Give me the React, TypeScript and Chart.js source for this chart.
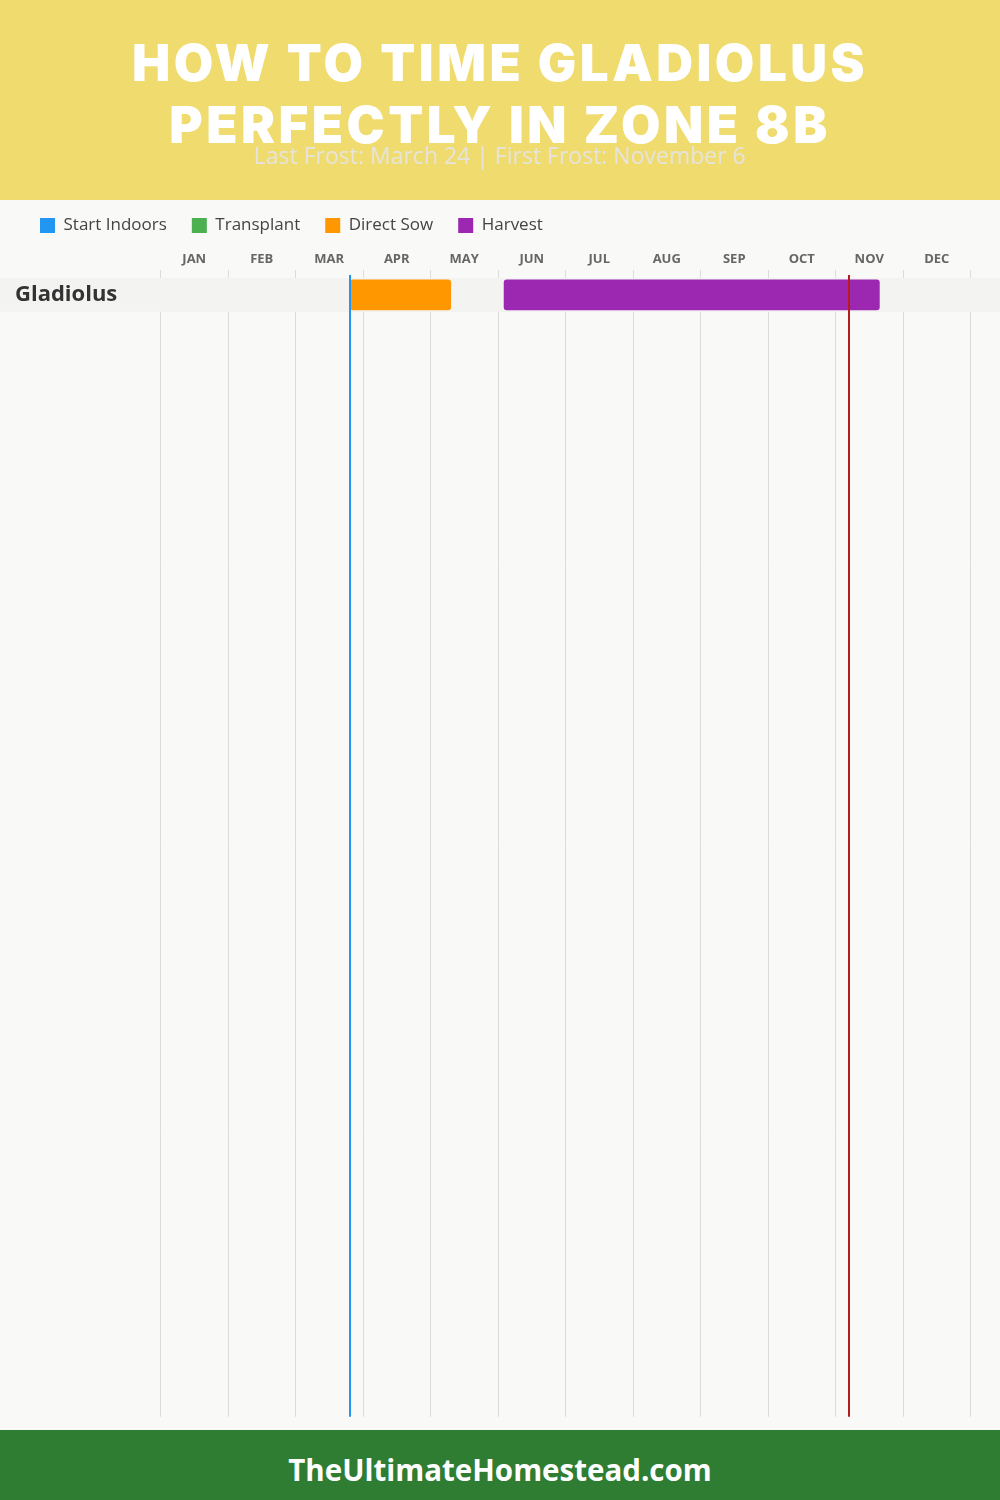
import { useEffect, useRef } from 'react';
import { Chart, registerables } from 'chart.js';

Chart.register(...registerables);

const months = ['JAN', 'FEB', 'MAR', 'APR', 'MAY', 'JUN', 'JUL', 'AUG', 'SEP', 'OCT', 'NOV', 'DEC'];
const crops = ['Gladiolus'];
const seriesNames = ['Start Indoors', 'Transplant', 'Direct Sow', 'Harvest'];
const seriesColors = ['#2196F3', '#4CAF50', '#FF9800', '#9C27B0'];
// ranges in months from Jan 1 (0) to Dec 31 (12)
const startIndoors: ([number, number] | null)[] = [null];
const transplant: ([number, number] | null)[] = [null];
const directSow: ([number, number] | null)[] = [[2.81, 4.3]];
const harvest: ([number, number] | null)[] = [[5.09, 10.65]];
const lastFrost = 2.8; // March 24
const firstFrost = 10.2; // November 6
const titleLines = ['HOW TO TIME GLADIOLUS', 'PERFECTLY IN ZONE 8B'];
const subtitle = 'Last Frost: March 24 | First Frost: November 6';
const footer = 'TheUltimateHomestead.com';

const ROW_PX = 34;
const AREA_H = 1143;

export default function App() {
  const ref = useRef<HTMLCanvasElement>(null);

  useEffect(() => {
    document.body.style.margin = '0';
    const seriesData = [startIndoors, transplant, directSow, harvest];
    const datasets = seriesNames.map((name, s) => ({
      label: name,
      data: seriesData[s]
        .map((r, i) => (r ? { x: r, y: i + 0.5 } : null))
        .filter((d) => d !== null),
      backgroundColor: seriesColors[s],
      borderColor: seriesColors[s],
      borderWidth: 0,
      borderRadius: 3,
      borderSkipped: false,
      barThickness: 30,
      grouped: false,
      xAxisID: 'x',
      yAxisID: 'y',
    }));

    const rowBand = {
      id: 'rowBand',
      beforeDraw(chart: any) {
        const { ctx } = chart;
        const y = chart.scales.y;
        ctx.save();
        ctx.fillStyle = '#f3f3f2';
        crops.forEach((_, i) => {
          const t = y.getPixelForValue(i);
          const b = y.getPixelForValue(i + 1);
          ctx.fillRect(0, t, chart.width, b - t);
        });
        ctx.restore();
      },
      beforeDatasetsDraw(chart: any) {
        const { ctx, chartArea } = chart;
        const y = chart.scales.y;
        ctx.save();
        ctx.fillStyle = '#f3f3f2';
        crops.forEach((_, i) => {
          const t = y.getPixelForValue(i);
          const b = y.getPixelForValue(i + 1);
          ctx.fillRect(chartArea.left - 1, t, chart.width - chartArea.left + 1, b - t);
        });
        ctx.restore();
      },
      afterDatasetsDraw(chart: any) {
        const { ctx, chartArea } = chart;
        const x = chart.scales.x;
        const lines: [number, string][] = [
          [lastFrost, '#2196F3'],
          [firstFrost, '#B71C1C'],
        ];
        ctx.save();
        lines.forEach(([v, c]) => {
          const px = Math.round(x.getPixelForValue(v));
          ctx.strokeStyle = c;
          ctx.lineWidth = 2;
          ctx.beginPath();
          ctx.moveTo(px, chartArea.top - 3);
          ctx.lineTo(px, chartArea.bottom);
          ctx.stroke();
        });
        ctx.restore();
      },
    };

    const chart = new Chart(ref.current!, {
      type: 'bar',
      data: { datasets: datasets as any },
      options: {
        animation: false,
        responsive: false,
        events: [],
        indexAxis: 'y',
        layout: { padding: { left: 15, right: 29.5, top: 0, bottom: 9 } },
        plugins: {
          legend: {
            position: 'top',
            align: 'start',
            labels: {
              boxWidth: 15,
              boxHeight: 15,
              padding: 25,
              color: '#444',
              font: { family: '"Open Sans", sans-serif', size: 17 },
            },
          },
          tooltip: { enabled: false },
        },
        scales: {
          x: {
            type: 'linear',
            display: false,
            min: 0,
            max: 12,
          },
          xm: {
            type: 'category',
            labels: months,
            position: 'top',
            offset: true,
            grid: { offset: true, color: '#dcdcdc', lineWidth: 1, tickLength: 8, drawTicks: true },
            border: { display: false },
            ticks: {
              padding: 3,
              color: '#666',
              font: { family: '"Open Sans", sans-serif', size: 13, weight: 'bold' },
              maxRotation: 0,
            },
            afterFit(scale: any) {
              scale.height = 34;
            },
          } as any,
          y: {
            type: 'linear',
            position: 'left',
            reverse: true,
            offset: false,
            min: 0,
            max: AREA_H / ROW_PX,
            grid: { display: false },
            border: { display: false },
            afterBuildTicks(scale: any) {
              scale.ticks = crops.map((_, i) => ({ value: i + 0.5 }));
            },
            afterFit(scale: any) {
              scale.width = 145.5;
            },
            ticks: {
              crossAlign: 'far',
              padding: 0,
              color: '#333',
              font: { family: '"Open Sans", sans-serif', size: 22, weight: 'bold' },
              callback: (_v: any, i: number) => crops[i],
            },
          } as any,
        },
      },
      plugins: [rowBand],
    });
    return () => chart.destroy();
  }, []);

  return (
    <div style={{ position: 'relative', width: 1000, height: 1500, background: '#f9f9f8', overflow: 'hidden' }}>
      <div
        style={{
          position: 'absolute', left: 0, top: 0, width: 1000, height: 200, background: '#f0db6e',
        }}
      >
        {titleLines.map((t, i) => (
          <div
            key={t}
            style={{
              position: 'absolute', left: 0, width: 1000, top: 32 + i * 62, height: 62, lineHeight: '62px',
              textAlign: 'center', color: '#ffffff', fontFamily: 'Inter, sans-serif', fontWeight: 900,
              fontSize: 51, letterSpacing: 3.5,
            }}
          >
            {t}
          </div>
        ))}
        <div
          style={{
            position: 'absolute', left: 0, width: 1000, top: 140, height: 30, lineHeight: '30px',
            textAlign: 'center', color: '#e6e4da', fontFamily: '"Open Sans", sans-serif', fontSize: 23,
          }}
        >
          {subtitle}
        </div>
      </div>
      <div style={{ position: 'absolute', left: 0, top: 192, width: 1000, height: 1238 }}>
        <canvas ref={ref} width={1000} height={1238} style={{ display: 'block', width: 1000, height: 1238 }} />
      </div>
      <div
        style={{
          position: 'absolute', left: 0, top: 1430, width: 1000, height: 70, background: '#2E7D32',
          color: '#ffffff', textAlign: 'center', boxSizing: 'border-box', paddingTop: 10, lineHeight: '60px',
          fontFamily: '"Open Sans", sans-serif', fontWeight: 700, fontSize: 29.5,
        }}
      >
        {footer}
      </div>
    </div>
  );
}
